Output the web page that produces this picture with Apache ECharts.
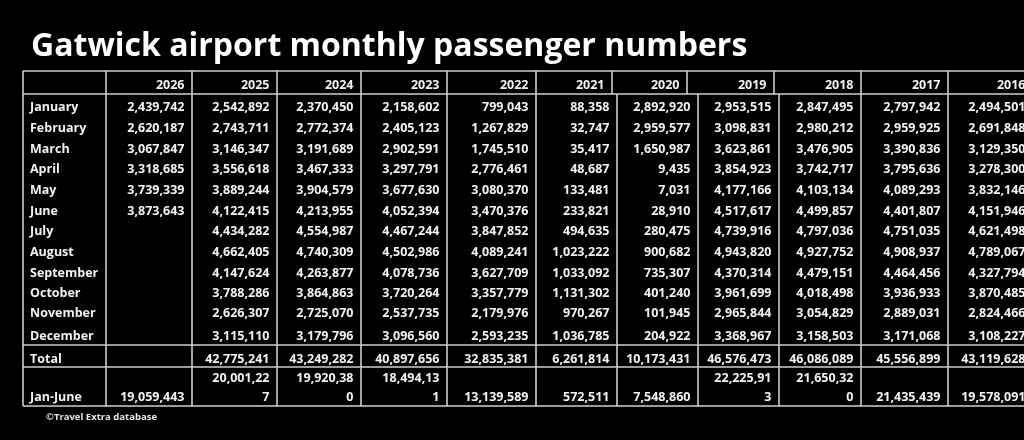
<!DOCTYPE html>
<html><head><meta charset="utf-8">
<script src="https://cdn.jsdelivr.net/npm/echarts@6/dist/echarts.min.js"></script>
<style>html,body{margin:0;padding:0;background:#000;}#c{width:1024px;height:440px;}</style>
</head><body><div id="c"></div>
<script>
// ---------- data ----------
const chartTitle = 'Gatwick airport monthly passenger numbers';
const sourceNote = '©Travel Extra database';
const years = ['2026','2025','2024','2023','2022','2021','2020','2019','2018','2017','2016'];
const months = ['January','February','March','April','May','June','July','August','September','October','November','December'];
const v2026 = [2439742,2620187,3067847,3318685,3739339,3873643,null,null,null,null,null,null];
const v2025 = [2542892,2743711,3146347,3556618,3889244,4122415,4434282,4662405,4147624,3788286,2626307,3115110];
const v2024 = [2370450,2772374,3191689,3467333,3904579,4213955,4554987,4740309,4263877,3864863,2725070,3179796];
const v2023 = [2158602,2405123,2902591,3297791,3677630,4052394,4467244,4502986,4078736,3720264,2537735,3096560];
const v2022 = [799043,1267829,1745510,2776461,3080370,3470376,3847852,4089241,3627709,3357779,2179976,2593235];
const v2021 = [88358,32747,35417,48687,133481,233821,494635,1023222,1033092,1131302,970267,1036785];
const v2020 = [2892920,2959577,1650987,9435,7031,28910,280475,900682,735307,401240,101945,204922];
const v2019 = [2953515,3098831,3623861,3854923,4177166,4517617,4739916,4943820,4370314,3961699,2965844,3368967];
const v2018 = [2847495,2980212,3476905,3742717,4103134,4499857,4797036,4927752,4479151,4018498,3054829,3158503];
const v2017 = [2797942,2959925,3390836,3795636,4089293,4401807,4751035,4908937,4464456,3936933,2889031,3171068];
const v2016 = [2494501,2691848,3129350,3278300,3832146,4151946,4621498,4789067,4327794,3870485,2824466,3108227];
const yearValues = [v2026,v2025,v2024,v2023,v2022,v2021,v2020,v2019,v2018,v2017,v2016];
const totalLabel = 'Total';
const totals = [null,42775241,43249282,40897656,32835381,6261814,10173431,46576473,46086089,45556899,43119628];
const janJuneLabel = 'Jan-June';
const janJune = [19059443,20001227,19920380,18494131,13139589,572511,7548860,22225913,21650320,21435439,19578091];

// ---------- layout (table units = px inside the grid) ----------
const bodyEdges = [0,83,169,254,338,424,513,594,675,756,838,925,1010];
const headEdges = [0,83,169,254,338,424,513,589,664,751,838,925,1010];
const headerRowY = 14.5;
const monthRowY = [36,57,78,98,119,140,160,181,202,222,242,265];
const totalRowY = 288;
const janJuneRowY = [307,326];
const hRules = [0,23,274,296,335];
const headBottom = 23, tableBottom = 335;
const janJuneWrapped = [false,true,true,true,false,false,false,true,true,false,false];
const padR = 7.5, padL = 7;

const fmt = v => v == null ? '' : v.toLocaleString('en-US');

// build cells
const cells = [];
function addCell(x, y, text, align) { if (text) cells.push({x, y, text, align}); }
years.forEach((yr, i) => addCell(headEdges[i + 2] - padR, headerRowY, yr, 'right'));
months.forEach((m, r) => {
  addCell(bodyEdges[0] + padL, monthRowY[r], m, 'left');
  yearValues.forEach((arr, i) => addCell(bodyEdges[i + 2] - padR, monthRowY[r], fmt(arr[r]), 'right'));
});
addCell(bodyEdges[0] + padL, totalRowY, totalLabel, 'left');
totals.forEach((v, i) => addCell(bodyEdges[i + 2] - padR, totalRowY, fmt(v), 'right'));
addCell(bodyEdges[0] + padL, janJuneRowY[1], janJuneLabel, 'left');
janJune.forEach((v, i) => {
  const s = fmt(v);
  if (janJuneWrapped[i]) {
    addCell(bodyEdges[i + 2] - padR, janJuneRowY[0], s.slice(0, -1), 'right');
    addCell(bodyEdges[i + 2] - padR, janJuneRowY[1], s.slice(-1), 'right');
  } else {
    addCell(bodyEdges[i + 2] - padR, janJuneRowY[1], s, 'right');
  }
});

// build rules
const rules = [];
hRules.forEach(y => rules.push([0, y, bodyEdges[bodyEdges.length - 1], y]));
headEdges.forEach(x => rules.push([x, 0, x, headBottom]));
bodyEdges.forEach(x => rules.push([x, headBottom, x, tableBottom]));

const chart = echarts.init(document.getElementById('c'), null, {renderer: 'canvas'});
const textFont = 'bold 12.5px "Open Sans"';
chart.setOption({
  backgroundColor: '#000',
  animation: false,
  title: [
    {text: chartTitle, left: 26, top: 26,
     textStyle: {color: '#ffffff', fontFamily: 'Open Sans', fontWeight: 'bold', fontSize: 32}},
    {text: sourceNote, left: 41, top: 407,
     textStyle: {color: '#e8e8e8', fontFamily: 'Open Sans', fontWeight: 'bold', fontSize: 9.5}}
  ],
  // grid spans the visible width; the last column runs past the right edge as in the original
  grid: {left: 23, top: 71, right: 0, height: 335},
  xAxis: {type: 'value', min: 0, max: 1001, show: false},
  yAxis: {type: 'value', min: 0, max: 335, inverse: true, show: false},
  series: [
    {
      type: 'custom', name: 'rules', silent: true,
      data: rules, encode: {x: [0, 2], y: [1, 3]}, clip: false,
      renderItem(params, api) {
        const a = api.coord([api.value(0), api.value(1)]);
        const b = api.coord([api.value(2), api.value(3)]);
        return {type: 'line', shape: {x1: a[0], y1: a[1], x2: b[0], y2: b[1]},
                style: {stroke: '#cfcfcf', lineWidth: 1.6}};
      }
    },
    {
      type: 'custom', name: 'cells', silent: true,
      data: cells.map((c, i) => [c.x, c.y, i]), encode: {x: 0, y: 1}, clip: false,
      renderItem(params, api) {
        const c = cells[api.value(2)];
        const p = api.coord([api.value(0), api.value(1)]);
        return {type: 'text', style: {text: c.text, x: p[0], y: p[1], align: c.align,
                verticalAlign: 'middle', fill: '#f2f2f2', font: textFont}};
      }
    }
  ]
});
</script></body></html>
